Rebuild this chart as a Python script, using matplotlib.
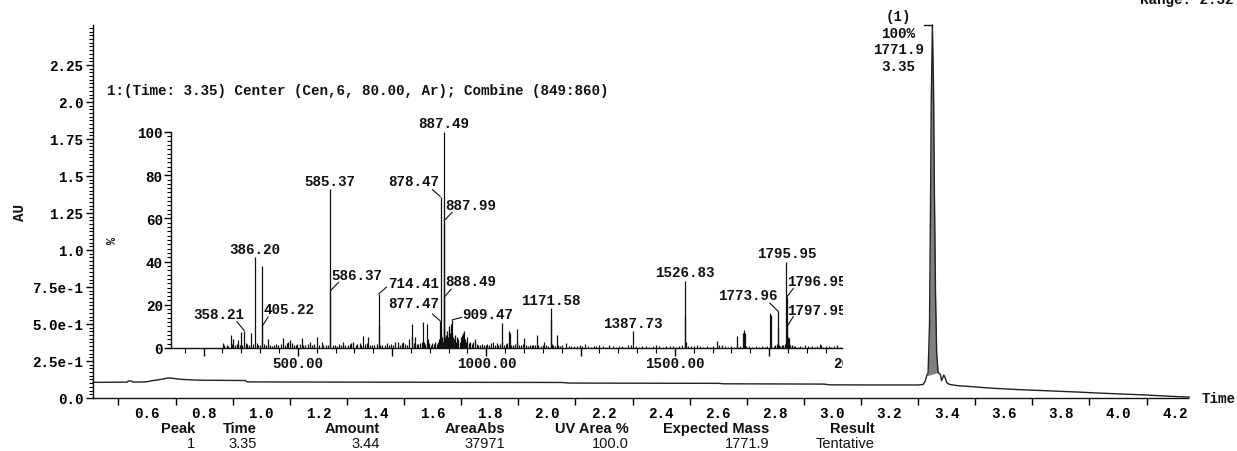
import matplotlib
matplotlib.use("Agg")
import matplotlib.pyplot as plt
from matplotlib import transforms
from matplotlib.ticker import MultipleLocator
import numpy as np

# ---------------- data ----------------
# UV chromatogram (time in min, absorbance in AU)
time_min = [0.411, 0.45, 0.50, 0.530, 0.535, 0.545, 0.550, 0.58, 0.600, 0.615,
            0.64, 0.66, 0.675, 0.69, 0.72, 0.76, 0.80, 0.88, 0.945, 0.950,
            1.10, 1.40, 1.70, 2.05, 2.08, 2.30, 2.60, 2.62, 2.80, 2.97,
            2.99, 3.15, 3.30, 3.318, 3.325, 3.330, 3.335, 3.340, 3.343, 3.346,
            3.350, 3.354, 3.357, 3.361, 3.365, 3.370, 3.375, 3.378, 3.382, 3.386,
            3.390, 3.394, 3.400, 3.406, 3.415, 3.44, 3.50, 3.56, 3.65, 3.75,
            3.85, 3.925, 4.00, 4.10, 4.20, 4.25]
absorb_au = [0.106, 0.106, 0.107, 0.107, 0.115, 0.115, 0.108, 0.108, 0.110, 0.116,
             0.123, 0.130, 0.136, 0.133, 0.126, 0.122, 0.120, 0.119, 0.118, 0.109,
             0.108, 0.107, 0.106, 0.105, 0.101, 0.100, 0.099, 0.096, 0.095, 0.094,
             0.089, 0.088, 0.088, 0.092, 0.115, 0.150, 0.170, 0.50, 1.20, 2.00,
             2.52, 2.10, 1.40, 0.70, 0.30, 0.172, 0.165, 0.160, 0.117, 0.135,
             0.155, 0.140, 0.105, 0.095, 0.090, 0.083, 0.075, 0.066, 0.057, 0.049,
             0.041, 0.034, 0.028, 0.020, 0.010, 0.006]
peak_start, peak_apex, peak_end = 3.330, 3.350, 3.370
peak_label = ["(1)", "100%", "1771.9", "3.35"]

y_tick_values = [0.0, 0.25, 0.5, 0.75, 1.0, 1.25, 1.5, 1.75, 2.0, 2.25]
y_tick_labels = ["0.0", "2.5e-1", "5.0e-1", "7.5e-1", "1.0", "1.25", "1.5",
                 "1.75", "2.0", "2.25"]
x_label_values = [0.6, 0.8, 1.0, 1.2, 1.4, 1.6, 1.8, 2.0, 2.2, 2.4, 2.6, 2.8,
                  3.0, 3.2, 3.4, 3.6, 3.8, 4.0, 4.2]

# Combined mass spectrum at 3.35 min (m/z, relative intensity %)
labelled_mz = [358.21, 386.20, 405.22, 585.37, 586.37, 714.41, 877.47, 878.47,
               887.49, 887.99, 888.49, 909.47, 1171.58, 1387.73, 1526.83,
               1773.96, 1795.95, 1796.95, 1797.95]
labelled_int = [8.0, 42.0, 10.0, 73.5, 26.5, 25.0, 12.6, 70.0,
                100.0, 59.0, 23.6, 13.0, 18.5, 7.7, 31.0,
                17.0, 40.0, 23.6, 10.0]

other_mz = [300.7, 305, 311, 316, 322, 326, 329, 334, 338, 342, 346, 349, 353, 362,
            366, 371, 375.8, 380, 391, 395, 399, 404.0, 410, 415, 421.7, 427, 432,
            438, 443, 448, 455, 461.6, 466, 470, 475, 479, 484, 489, 494, 499, 505,
            510, 515, 520, 526, 532, 538, 544, 550, 556, 563, 568, 574, 579, 592,
            598, 604, 609, 615, 620.6, 626, 632, 638, 642, 647, 653, 658, 664, 668,
            673.7, 678, 683, 687, 692, 698, 703, 709, 715.4, 719, 724, 730, 736,
            741, 747, 752, 758, 765, 770, 775, 780, 785, 790, 795, 802, 803.5, 807,
            811, 815, 820, 825, 829, 833, 835, 838, 842, 844, 848, 852, 856, 860,
            864, 868, 872, 875, 879.5, 881, 883, 885, 886.5, 889, 890, 892, 894,
            896, 898, 900, 902, 904, 906, 908, 911, 913, 915, 918, 920, 923, 926,
            929, 932, 935, 938, 941, 944, 947, 950, 954, 957, 961, 965, 970, 974,
            978, 983, 988, 993, 998, 1003, 1008, 1013, 1018, 1022, 1027, 1032, 1036,
            1040.7, 1042, 1046, 1052, 1056, 1061, 1062.5, 1066, 1071, 1076, 1080.6,
            1082, 1087, 1092, 1096, 1100, 1104, 1110, 1115, 1120, 1125, 1129,
            1133.6, 1138, 1144, 1149, 1153, 1158, 1163, 1170.6, 1173, 1178, 1183,
            1188, 1190, 1196, 1202, 1210, 1218, 1225, 1232, 1240, 1248, 1255, 1263,
            1270, 1278, 1285, 1292, 1300, 1310, 1318, 1326, 1335, 1344, 1352, 1360,
            1368, 1377, 1385, 1396, 1405, 1414, 1423, 1432, 1441, 1450, 1459, 1468,
            1477, 1486, 1495, 1504, 1512, 1520, 1527.8, 1529, 1535, 1543, 1550,
            1558, 1566, 1575, 1584, 1592, 1600, 1613, 1616, 1624, 1632, 1640, 1648,
            1656, 1664, 1666, 1672, 1680, 1683, 1685, 1690, 1698, 1706, 1714, 1722,
            1730, 1738, 1745, 1752, 1754, 1756, 1762, 1766, 1770, 1772.9, 1776,
            1779, 1783, 1787, 1791, 1794, 1799, 1800, 1801, 1802, 1803, 1806, 1810,
            1815, 1820, 1826, 1832, 1838, 1845, 1852, 1858, 1865, 1872, 1878, 1885,
            1887, 1893, 1900, 1908, 1915, 1922, 1930, 1938, 1945]
other_int = [2.3, 1.2, 1.5, 1.0, 6.0, 2.0, 4.0, 1.5, 2.0, 3.6, 1.2, 7.2, 1.5, 2.5,
             1.8, 1.2, 7.0, 2.0, 2.5, 1.5, 1.2, 38.0, 1.8, 1.3, 4.0, 1.5, 1.0,
             1.4, 1.8, 1.2, 2.0, 4.4, 1.5, 2.5, 3.0, 3.6, 2.2, 1.4, 1.2, 1.7, 2.0,
             4.7, 1.6, 1.2, 2.0, 3.0, 1.5, 1.8, 5.2, 1.6, 3.0, 1.3, 1.4, 1.2, 1.2,
             1.6, 1.0, 1.8, 1.5, 3.0, 1.5, 1.2, 1.8, 2.2, 3.0, 1.4, 2.0, 2.4, 1.5,
             5.5, 2.0, 2.5, 4.9, 1.6, 1.4, 1.2, 1.8, 10.6, 1.5, 1.2, 1.6, 2.2,
             1.5, 1.8, 1.2, 2.6, 3.0, 1.5, 2.2, 3.0, 2.0, 1.6, 4.0, 11.0, 5.0, 2.5,
             5.0, 2.0, 1.8, 2.4, 3.0, 12.0, 3.0, 2.0, 11.0, 4.0, 2.5, 1.5, 2.2, 1.8,
             2.6, 2.0, 3.0, 4.0, 6.0, 4.0, 5.0, 3.0, 4.0, 9.0, 5.0, 4.0, 6.0,
             8.0, 5.0, 9.0, 10.0, 7.0, 11.0, 6.0, 5.0, 3.0, 4.0, 6.0, 3.0, 5.0, 4.0,
             3.0, 5.0, 6.0, 7.0, 8.0, 4.0, 3.0, 5.0, 2.5, 3.0, 2.0, 3.0, 4.0, 2.0,
             1.5, 1.2, 1.8, 1.4, 1.2, 2.0, 1.5, 2.5, 3.0, 1.6, 2.2, 1.5, 2.0,
             11.6, 3.0, 1.5, 1.8, 2.4, 8.0, 7.0, 1.5, 1.3, 2.0, 9.0,
             3.0, 1.5, 1.2, 1.8, 4.5, 1.2, 1.0, 1.4, 1.2, 1.6, 1.2,
             6.0, 1.2, 1.0, 1.4, 3.0, 1.2, 1.0, 13.5, 2.0, 1.2, 1.0,
             6.0, 1.5, 1.0, 1.2, 2.5, 1.0, 0.8, 1.0, 0.8, 1.2, 0.8, 2.0,
             0.8, 0.6, 1.0, 0.8, 1.2, 0.8, 0.6, 1.2, 0.8, 0.6, 1.0, 0.8,
             0.6, 1.2, 1.5, 0.8, 0.6, 1.0, 0.8, 0.6, 0.8, 1.2, 0.7, 0.6,
             0.8, 1.0, 0.7, 0.6, 0.8, 1.2, 15.0, 3.0, 1.0, 0.8, 0.7,
             1.5, 0.8, 0.6, 0.8, 0.6, 0.8, 3.4, 1.2, 1.5, 0.8, 0.6, 0.8,
             0.6, 5.5, 2.0, 0.8, 7.0, 8.3, 7.0, 1.0, 0.8, 0.6, 0.8, 0.6,
             0.8, 0.6, 0.8, 16.0, 15.5, 1.5, 1.0, 1.5, 2.0, 9.7, 1.5,
             1.0, 1.2, 1.5, 2.0, 2.5, 4.0, 3.0, 5.0, 4.5, 2.0, 1.5, 1.2,
             0.8, 1.0, 0.6, 0.8, 0.6, 1.2, 0.8, 0.6, 0.8, 0.6, 0.8, 2.0,
             1.5, 0.6, 0.8, 1.0, 0.6, 0.8, 1.2, 0.6, 0.8]

ms_title = "1:(Time: 3.35) Center (Cen,6, 80.00, Ar); Combine (849:860)"

table_headers = ["Peak", "Time", "Amount", "AreaAbs", "UV Area %",
                 "Expected Mass", "Result"]
table_values = ["1", "3.35", "3.44", "37971", "100.0", "1771.9", "Tentative"]

# ---------------- layout helpers ----------------
W, H, DPI = 1237, 452, 100
MONO = dict(family=["Liberation Mono", "DejaVu Sans Mono"], fontweight="bold",
            fontsize=10.3, color="#111111")
SANS = ["Liberation Sans", "DejaVu Sans"]


def fx(px):
    return px / W


def fy(py):
    return 1.0 - py / H


fig = plt.figure(figsize=(W / DPI, H / DPI), dpi=DPI)
fig.patch.set_facecolor("white")

# ---------------- chromatogram ----------------
ax = fig.add_axes([fx(93), fy(399), fx(1188) - fx(93), fy(26) - fy(399)])
ax.set_xlim(0.411, 4.245)
ax.set_ylim(0, 2.52)
ax.patch.set_alpha(0)
for side in ("top", "right"):
    ax.spines[side].set_visible(False)
for side in ("left", "bottom"):
    ax.spines[side].set_linewidth(1.0)
    ax.spines[side].set_color("#111111")

t = np.array(time_min)
a = np.array(absorb_au)
sel = (t >= peak_start) & (t <= peak_end)
a_start = np.interp(peak_start, t, a)
a_end = np.interp(peak_end, t, a)
base = np.interp(t[sel], [peak_start, peak_end], [a_start, a_end])
ax.fill_between(t[sel], base, a[sel], color="#808080", lw=0, zorder=2)
ax.plot(t, a, color="#222222", lw=1.0, zorder=3, clip_on=False)
apex = np.interp(peak_apex, t, a)
ax.plot([peak_apex - 0.028, peak_apex], [apex, apex], color="#111111", lw=1.0,
        clip_on=False, zorder=3)

ax.set_yticks(y_tick_values, y_tick_labels)
ax.yaxis.set_minor_locator(MultipleLocator(0.025))
ax.tick_params(axis="y", which="major", length=5, width=1, pad=2)
ax.tick_params(axis="y", which="minor", length=3, width=0.8)
for lab in ax.get_yticklabels():
    lab.set_fontfamily(MONO["family"])
    lab.set_fontweight("bold")
    lab.set_fontsize(MONO["fontsize"])

# unlabelled tick marks between the labelled times
ax.set_xticks(np.arange(0.5, 4.21, 0.2))
ax.set_xticklabels([])
ax.tick_params(axis="x", which="major", length=5, width=1)
ax.set_xticks(x_label_values, [f"{v:.1f}" for v in x_label_values], minor=True)
ax.tick_params(axis="x", which="minor", length=0, pad=6)
for lab in ax.get_xticklabels(minor=True):
    lab.set_fontfamily(MONO["family"])
    lab.set_fontweight("bold")
    lab.set_fontsize(MONO["fontsize"])

fig.text(fx(20), fy(213), "AU", rotation=90, ha="center", va="center", **MONO)
fig.text(fx(1202), fy(399), "Time", ha="left", va="center", **MONO)
fig.text(fx(1140), fy(4), "Range: 2.32", ha="left", va="baseline", **MONO)
for i, s in enumerate(peak_label):
    fig.text(fx(898.5), fy(17 + 16.6 * i), s, ha="center", va="center", **MONO)

# ---------------- mass spectrum inset ----------------
ax2 = fig.add_axes([fx(171), fy(349), fx(842) - fx(171), fy(133) - fy(349)])
ax2.set_xlim(163.6, 1943.4)
ax2.set_ylim(0, 100)
ax2.patch.set_alpha(0)
for side in ("top", "right"):
    ax2.spines[side].set_visible(False)
for side in ("left", "bottom"):
    ax2.spines[side].set_linewidth(1.0)
    ax2.spines[side].set_color("#111111")

ax2.vlines(other_mz, 0, other_int, color="#111111", lw=0.9)
ax2.vlines(labelled_mz, 0, labelled_int, color="#111111", lw=0.9)

ax2.xaxis.set_major_locator(MultipleLocator(250))
ax2.xaxis.set_minor_locator(MultipleLocator(50))
ax2.set_xticklabels([])
ax2.tick_params(axis="x", which="major", length=6, width=1)
ax2.tick_params(axis="x", which="minor", length=3.5, width=0.8)
ax2.set_yticks([0, 20, 40, 60, 80, 100])
ax2.yaxis.set_minor_locator(MultipleLocator(2))
ax2.tick_params(axis="y", which="major", length=5, width=1, pad=1)
ax2.tick_params(axis="y", which="minor", length=3, width=0.8)
for lab in ax2.get_yticklabels():
    lab.set_fontfamily(MONO["family"])
    lab.set_fontweight("bold")
    lab.set_fontsize(MONO["fontsize"])

# spectrum window: anything past its right edge is cut off
clip_bbox = transforms.TransformedBbox(
    transforms.Bbox([[0, 0], [fx(843), 1]]), fig.transFigure)


def clipped(txt):
    txt.set_clip_path(None)
    txt.set_clip_box(clip_bbox)
    txt.set_clip_on(True)
    return txt


below = transforms.offset_copy(ax2.get_xaxis_transform(), fig=fig, x=0, y=-15,
                               units="dots")
for v in (500, 1000, 1500, 2000):
    clipped(ax2.text(v, 0, f"{v:.2f}", transform=below, ha="center", va="center",
                     **MONO))

# label offsets in pixels from the stick top: (dx, dy, leader end or None)
label_layout = {
    358.21: (-25.5, 16.5, (-7.5, 9)),
    386.20: (0, 8.5, None),
    405.22: (26.5, 17, (6, 9.5)),
    585.37: (0, 8.0, None),
    586.37: (26.5, 16, (8.3, 8.5)),
    714.41: (34.5, 11, (8, 7)),
    877.47: (-26.6, 17.5, (-7.8, 6.8)),
    878.47: (-26.5, 16, (-8.2, 7.3)),
    887.49: (0, 8.5, None),
    887.99: (26.5, 15.6, (8.2, 8.3)),
    888.49: (26.3, 16, (7, 8)),
    909.47: (35.3, 6, (9.5, 2.6)),
    1171.58: (0, 8.5, None),
    1387.73: (0, 8.5, None),
    1526.83: (0, 9, None),
    1773.96: (-30.7, 16.6, (-8.4, 8.3)),
    1795.95: (0, 8.7, None),
    1796.95: (30.3, 15.7, (6.6, 8.7)),
    1797.95: (30.0, 16.4, (6.2, 10)),
}
for mz, inten in zip(labelled_mz, labelled_int):
    dx, dy, lead = label_layout[mz]
    tr = transforms.offset_copy(ax2.transData, fig=fig, x=dx, y=dy, units="dots")
    clipped(ax2.text(mz, inten, f"{mz:.2f}", transform=tr, ha="center",
                     va="center", **MONO))
    if lead is not None:
        ax2.annotate("", xy=(mz, inten), xytext=lead, textcoords="offset pixels",
                     arrowprops=dict(arrowstyle="-", color="#111111", lw=0.8,
                                     shrinkA=0, shrinkB=0))

fig.text(fx(113), fy(241), "%", rotation=90, ha="center", va="center",
         family=MONO["family"], fontweight="bold", fontsize=8.5, color="#111111")
fig.text(fx(107), fy(91), ms_title, ha="left", va="center", **MONO)

# ---------------- peak table ----------------
col_right = [195, 257, 380, 505, 629, 769, 875]
for hdr, val, xr in zip(table_headers, table_values, col_right):
    fig.text(fx(xr), fy(429), hdr, ha="right", va="center", family=SANS,
             fontweight="bold", fontsize=10.5, color="#111111")
    fig.text(fx(xr), fy(444), val, ha="right", va="center", family=SANS,
             fontsize=10.5, color="#111111")

fig.savefig("out.png", dpi=DPI, facecolor="white")
